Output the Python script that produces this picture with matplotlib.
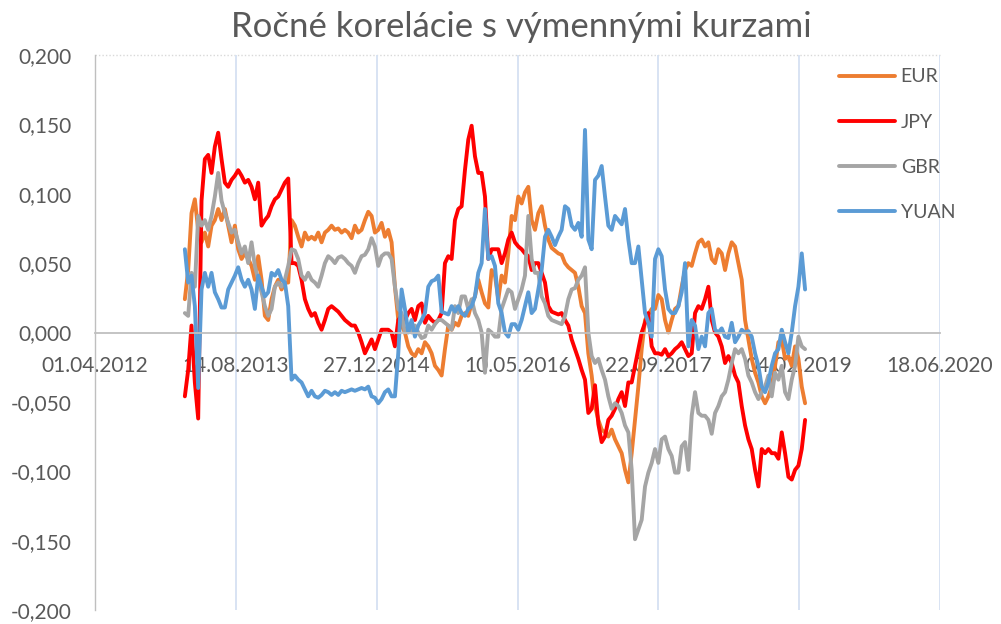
import matplotlib
matplotlib.use("Agg")
import matplotlib.pyplot as plt
import pandas as pd

# ---------------- data ----------------
title = "Ročné korelácie s výmennými kurzami"
series_names = ["EUR", "JPY", "GBR", "YUAN"]
series_colors = ["#ED7D31", "#FF0000", "#A5A5A5", "#5B9BD5"]

# sampling dates of the rolling correlations (Feb 2013 - Feb 2019)
date_start = "2013-02-14"
date_end = "2019-02-25"
n_points = 187

eur = [
    .024, .045, .086, .096, .074, .065, .072, .062, .077, .081, .089,
    .081, .089, .077, .065, .077, .060, .053, .057, .053, .048,
    .038, .055, .038, .012, .009, .024, .033, .038, .031, .036,
    .036, .081, .077, .069, .062, .072, .067, .069, .067, .072,
    .065, .072, .074, .077, .074, .075, .072, .074, .072, .068,
    .077, .072, .074, .081, .087, .084, .072, .074, .079, .069,
    .074, .065, .033, .009, .005, .000, -.010, -.015, -.017, -.012,
    -.015, -.007, -.010, -.015, -.024, -.027, -.031, -.012, .005, .002,
    .007, .005, .012, .014, .012, .021, .026, .038, .029, .021,
    .018, .045, .041, .024, .041, .036, .057, .084, .081, .098,
    .093, .101, .105, .081, .074, .086, .091, .077, .067, .061,
    .059, .057, .056, .050, .047, .045, .043, .033, .019, .014,
    -.015, -.031, -.053, -.063, -.070, -.072, -.075, -.070, -.077, -.082,
    -.087, -.099, -.108, -.087, -.063, -.039, -.012, .009, .013, .017,
    .017, .027, .024, .009, .000, .009, .017, .019, .033, .045,
    .050, .048, .057, .065, .067, .062, .065, .053, .050, .060,
    .057, .045, .057, .065, .062, .050, .038, .009, -.005, -.019,
    -.029, -.036, -.046, -.051, -.046, -.039, -.024, -.007, -.005, -.019,
    -.017, -.024, -.010, -.019, -.039, -.051,
]

jpy = [
    -.046, -.027, .005, -.036, -.062, .095, .125, .128, .115, .134, .144,
    .125, .108, .105, .110, .113, .117, .113, .108, .110, .105,
    .096, .108, .077, .081, .084, .091, .096, .098, .103, .108,
    .111, .050, .050, .048, .038, .024, .017, .012, .014, .007,
    .002, .009, .017, .019, .017, .015, .012, .009, .007, .005,
    .005, .000, -.007, -.015, -.010, -.005, -.012, -.005, .002, .002,
    .002, .000, -.010, .009, .012, .009, .014, .017, .009, .019,
    .021, .007, .012, .009, .007, .009, .014, .050, .055, .053,
    .081, .089, .091, .117, .139, .149, .127, .115, .115, .098,
    .053, .060, .060, .060, .050, .057, .067, .072, .065, .062,
    .060, .057, .055, .045, .050, .050, .043, .036, .019, .015,
    .014, .013, .014, .009, .005, -.005, -.012, -.019, -.027, -.034,
    -.058, -.055, -.038, -.066, -.079, -.075, -.063, -.060, -.055, -.048,
    -.043, -.053, -.036, -.036, -.024, -.012, .000, .007, .014, -.010,
    -.015, -.015, -.016, -.012, -.017, -.015, -.012, -.010, -.007, -.012,
    -.017, -.015, .014, .019, .017, .024, .033, .009, .000, -.003,
    -.010, -.022, -.017, -.022, -.031, -.036, -.053, -.067, -.077, -.084,
    -.099, -.111, -.084, -.087, -.084, -.087, -.087, -.091, -.072, -.087,
    -.104, -.106, -.099, -.096, -.084, -.063,
]

gbr = [
    .014, .012, .043, .033, .084, .077, .081, .074, .084, .098, .115,
    .095, .086, .079, .072, .074, .065, .057, .062, .050, .065,
    .048, .038, .029, .019, .012, .017, .033, .036, .033, .038,
    .048, .060, .059, .053, .041, .038, .043, .038, .036, .033,
    .041, .050, .055, .053, .050, .054, .055, .053, .050, .048,
    .043, .050, .055, .056, .060, .068, .062, .048, .055, .057,
    .057, .053, .033, .017, .014, .000, .002, .000, .005, .000,
    -.004, -.003, .005, .002, .006, .009, .009, .007, .005, .002,
    .019, .014, .026, .026, .017, .024, .014, .009, .000, -.029,
    .002, .000, -.003, -.003, .017, .024, .031, .029, .017, .024,
    .031, .041, .084, .053, .043, .043, .026, .021, .012, .009,
    .008, .007, .006, .012, .024, .031, .032, .038, .041, .047,
    .000, -.017, -.022, -.019, -.027, -.034, -.046, -.055, -.051, -.053,
    -.058, -.067, -.072, -.099, -.149, -.142, -.135, -.111, -.101, -.094,
    -.084, -.094, -.077, -.075, -.084, -.089, -.101, -.101, -.082, -.079,
    -.099, -.060, -.043, -.058, -.060, -.060, -.063, -.073, -.058, -.053,
    -.046, -.043, -.034, -.022, -.012, -.015, -.012, -.019, -.031, -.036,
    -.043, -.048, -.043, -.039, -.031, -.046, -.029, -.034, -.024, -.043,
    -.048, -.034, -.024, -.003, -.010, -.012,
]

yuan = [
    .060, .036, .041, .019, -.040, .031, .043, .033, .043, .029, .024,
    .018, .018, .031, .036, .041, .047, .038, .033, .038, .031,
    .017, .041, .033, .026, .029, .043, .041, .045, .038, .036,
    .019, -.034, -.031, -.034, -.036, -.041, -.046, -.042, -.046, -.047,
    -.045, -.042, -.043, -.045, -.043, -.045, -.042, -.043, -.042, -.041,
    -.042, -.041, -.040, -.041, -.039, -.046, -.047, -.051, -.048, -.043,
    -.041, -.046, -.046, -.015, .031, .017, .000, .009, -.003, .005,
    .009, .014, .033, .037, .038, .041, .015, .014, .013, .019,
    .015, .019, .014, .012, .017, .019, .026, .043, .050, .089,
    .053, .055, .048, .021, .014, .000, -.003, .006, .006, .002,
    .009, .019, .029, .014, .017, .031, .045, .069, .074, .069,
    .063, .069, .074, .091, .089, .077, .074, .079, .069, .146,
    .067, .060, .110, .113, .120, .098, .077, .074, .084, .081,
    .078, .089, .067, .050, .050, .062, .038, .014, .007, -.003,
    .053, .060, .055, .031, .017, .014, .014, .019, .029, .050,
    -.010, .009, .005, -.012, -.003, -.010, .014, .017, .002, .000,
    .003, -.003, -.004, .007, -.007, -.003, .002, .000, .001, -.003,
    -.015, -.024, -.039, -.043, -.036, -.024, -.015, -.012, .002, -.007,
    -.015, .000, .019, .033, .057, .031,
]

x_tick_labels = ["01.04.2012", "14.08.2013", "27.12.2014", "10.05.2016",
                 "22.09.2017", "04.02.2019", "18.06.2020"]
y_ticks = [-0.200, -0.150, -0.100, -0.050, 0.000, 0.050, 0.100, 0.150, 0.200]

# ---------------- plot ----------------
FONT = ["Lato", "DejaVu Sans"]
TXT = "#595959"
plt.rcParams["font.family"] = FONT

dates = pd.date_range(date_start, date_end, periods=n_points)
tick_dates = pd.to_datetime(x_tick_labels, format="%d.%m.%Y")

fig = plt.figure(figsize=(10.01, 6.24), dpi=100)
ax = fig.add_axes([95 / 1001, 1 - 610 / 624, (940 - 95) / 1001, (610 - 55) / 624])

for name, vals, col in zip(series_names, [eur, jpy, gbr, yuan], series_colors):
    ax.plot(dates, vals, color=col, lw=2.8, label=name,
            solid_joinstyle="round", solid_capstyle="round")

ax.set_xlim(tick_dates[0], tick_dates[-1])
ax.set_ylim(-0.2, 0.2)

ax.set_xticks(tick_dates)
ax.set_xticklabels(x_tick_labels)
ax.set_yticks(y_ticks)
ax.set_yticklabels([f"{v:.3f}".replace(".", ",") for v in y_ticks])

ax.tick_params(axis="both", length=0, labelsize=15, colors=TXT)
ax.tick_params(axis="x", pad=17)
ax.tick_params(axis="y", pad=17)

ax.xaxis.grid(True, color="#D5E1F2", lw=1.3)
ax.set_axisbelow(True)

for s in ["top", "right"]:
    ax.spines[s].set_visible(False)
ax.spines["left"].set_color("#BFBFBF")
ax.spines["left"].set_linewidth(1.0)
ax.spines["bottom"].set_position(("data", 0))
ax.spines["bottom"].set_color("#BFBFBF")
ax.spines["bottom"].set_linewidth(1.3)
ax.axhline(0.2, color="#D9D9D9", lw=1.0, ls=(0, (1, 1.5)), clip_on=False, zorder=0)

leg = ax.legend(loc="upper left", bbox_to_anchor=(821 / 1001, 1 - 51 / 624),
                bbox_transform=fig.transFigure, frameon=False, fontsize=14,
                handlelength=2.9, handletextpad=0.3, labelspacing=1.45)
for t in leg.get_texts():
    t.set_color(TXT)

fig.text(521 / 1001, 1 - 27 / 624, title, ha="center", va="center",
         fontsize=25, color=TXT)

fig.savefig("out.png", dpi=100)
